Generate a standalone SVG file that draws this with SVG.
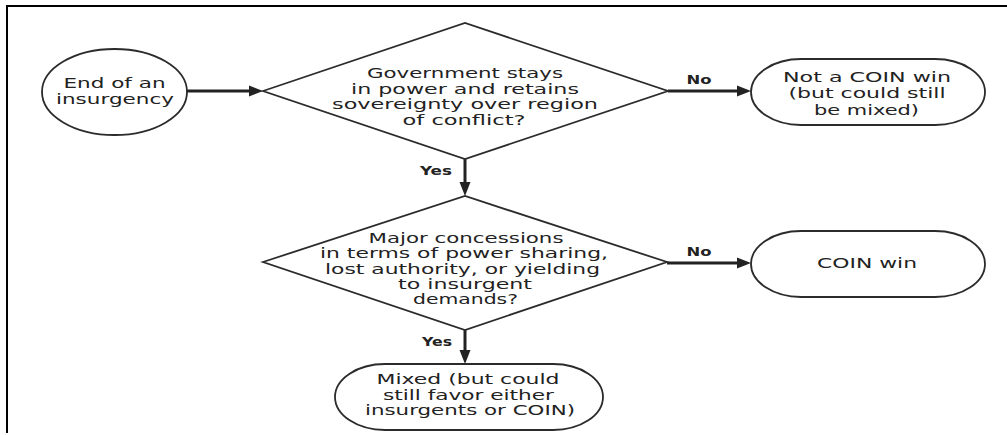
<svg xmlns="http://www.w3.org/2000/svg" width="1007" height="435" viewBox="0 0 1007 435">
<style>
.shape{fill:#fff;stroke:#2b2b2b;stroke-width:1.8}
.t{font-family:"DejaVu Sans","Liberation Sans",sans-serif;font-size:13.4px;fill:#222;text-anchor:middle}
.lbl{font-family:"DejaVu Sans","Liberation Sans",sans-serif;font-size:12px;font-weight:bold;fill:#222;text-anchor:middle}
.conn{stroke:#222;stroke-width:3;fill:none;marker-end:url(#ah)}
.frame{fill:none;stroke:#000;stroke-width:2}
</style>
<defs>
<marker id="ah" markerUnits="userSpaceOnUse" markerWidth="16" markerHeight="12" refX="2" refY="6" orient="auto">
<path d="M0,0.5 L14,6 L0,11.5 z" fill="#222"/>
</marker>
</defs>
<rect width="1007" height="435" fill="#fff"/>
<polyline class="frame" points="7,433 7,6 1007,6"/>
<g id="connectors">
<line class="conn" x1="187" y1="91" x2="251" y2="91"/>
<line class="conn" x1="668" y1="91" x2="739" y2="91"/>
<line class="conn" x1="465" y1="159" x2="465" y2="184"/>
<line class="conn" x1="667" y1="263" x2="739" y2="263"/>
<line class="conn" x1="465" y1="330" x2="465" y2="352"/>
<text class="lbl" x="699" y="84" textLength="25" lengthAdjust="spacingAndGlyphs">No</text>
<text class="lbl" x="436" y="175" textLength="32" lengthAdjust="spacingAndGlyphs">Yes</text>
<text class="lbl" x="699" y="256" textLength="25" lengthAdjust="spacingAndGlyphs">No</text>
<text class="lbl" x="437" y="346" textLength="30" lengthAdjust="spacingAndGlyphs">Yes</text>
</g>
<g id="start">
<ellipse class="shape" cx="114.5" cy="92" rx="72.5" ry="43"/>
<text class="t" x="114.5" y="88" textLength="102" lengthAdjust="spacingAndGlyphs">End of an</text>
<text class="t" x="115" y="104" textLength="118" lengthAdjust="spacingAndGlyphs">insurgency</text>
</g>
<g id="decision1">
<polygon class="shape" points="263,91 465,23 668,91 465,159"/>
<text class="t" x="465" y="78" textLength="196" lengthAdjust="spacingAndGlyphs">Government stays</text>
<text class="t" x="465" y="93.5" textLength="228" lengthAdjust="spacingAndGlyphs">in power and retains</text>
<text class="t" x="465" y="109" textLength="266" lengthAdjust="spacingAndGlyphs">sovereignty over region</text>
<text class="t" x="464" y="125" textLength="123" lengthAdjust="spacingAndGlyphs">of conflict?</text>
</g>
<g id="notwin">
<rect class="shape" x="751" y="59" width="234" height="66" rx="50" ry="33"/>
<text class="t" x="867" y="82" textLength="168" lengthAdjust="spacingAndGlyphs">Not a COIN win</text>
<text class="t" x="867" y="98" textLength="157" lengthAdjust="spacingAndGlyphs">(but could still</text>
<text class="t" x="866.5" y="114.5" textLength="105" lengthAdjust="spacingAndGlyphs">be mixed)</text>
</g>
<g id="decision2">
<polygon class="shape" points="263,262 465,196 667,262 465,330"/>
<text class="t" x="466" y="242.5" textLength="195" lengthAdjust="spacingAndGlyphs">Major concessions</text>
<text class="t" x="464" y="258" textLength="288" lengthAdjust="spacingAndGlyphs">in terms of power sharing,</text>
<text class="t" x="462.5" y="273.5" textLength="275" lengthAdjust="spacingAndGlyphs">lost authority, or yielding</text>
<text class="t" x="465" y="288.5" textLength="134" lengthAdjust="spacingAndGlyphs">to insurgent</text>
<text class="t" x="465.5" y="303.5" textLength="105" lengthAdjust="spacingAndGlyphs">demands?</text>
</g>
<g id="coinwin">
<rect class="shape" x="751" y="231" width="234" height="66" rx="50" ry="33"/>
<text class="t" x="867" y="268" textLength="100" lengthAdjust="spacingAndGlyphs">COIN win</text>
</g>
<g id="mixed">
<rect class="shape" x="335" y="364" width="268" height="66" rx="50" ry="33"/>
<text class="t" x="468" y="384" textLength="183" lengthAdjust="spacingAndGlyphs">Mixed (but could</text>
<text class="t" x="468.5" y="400" textLength="171" lengthAdjust="spacingAndGlyphs">still favor either</text>
<text class="t" x="470" y="415" textLength="210" lengthAdjust="spacingAndGlyphs">insurgents or COIN)</text>
</g>
</svg>
